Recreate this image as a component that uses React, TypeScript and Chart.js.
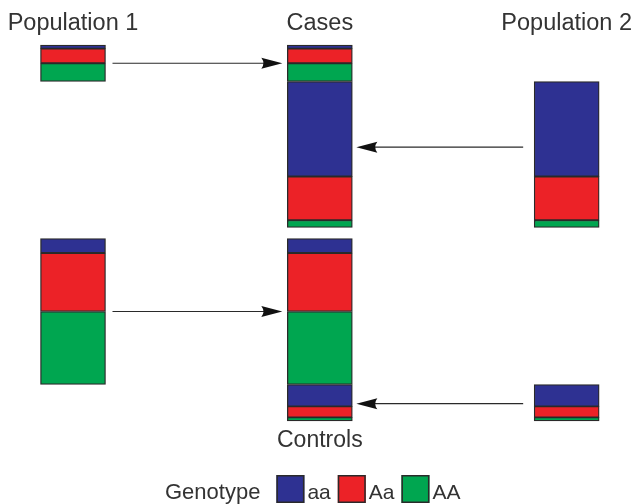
import React, { useEffect, useRef } from 'react';
import { Chart, registerables } from 'chart.js';

Chart.register(...registerables);

// ---- data ----
const columns = ['Population 1', 'Cases', 'Population 2'];
const bottomLabels = ['', 'Controls', ''];
const legendTitle = 'Genotype';
const genotypes = ['aa', 'Aa', 'AA'];
const genotypeColors = ['#2E3192', '#EC2227', '#00A650'];
// counts of each genotype (aa, Aa, AA)
const casesFromPop1 = [2, 8, 10];
const casesFromPop2 = [52, 24, 4];
const controlsFromPop1 = [8, 32, 40];
const controlsFromPop2 = [12, 6, 2];
const rowGap = 6;
// value level at which each arrow points into the middle column
const arrowLevels = [10, 56, 146, 196.5];
const arrowSources = [0, 2, 0, 2];

const FONT = "'Liberation Sans', Arial, Helvetica, sans-serif";
const TEXT = '#333333';
const BAR_W = 65;

const sum = (a: number[]) => a.reduce((s, v) => s + v, 0);

function buildDatasets() {
  const rows = [
    { start: 0, parts: [{ counts: casesFromPop1, cols: [0, 1] }, { counts: casesFromPop2, cols: [1, 2] }] },
    {
      start: sum(casesFromPop1) + sum(casesFromPop2) + rowGap,
      parts: [{ counts: controlsFromPop1, cols: [0, 1] }, { counts: controlsFromPop2, cols: [1, 2] }],
    },
  ];
  const datasets: any[] = [];
  rows.forEach((row) => {
    let pos = row.start;
    row.parts.forEach((part) => {
      part.counts.forEach((c, g) => {
        const range = [pos, pos + c];
        datasets.push({
          label: genotypes[g],
          xAxisID: 'x',
          yAxisID: 'y',
          data: columns.map((_, i) => (part.cols.includes(i) ? range : null)),
          backgroundColor: genotypeColors[g],
          borderColor: '#2a2a2a',
          borderWidth: 1.3,
          borderSkipped: false,
          barThickness: BAR_W,
          clip: false,
        });
        pos += c;
      });
    });
  });
  return datasets;
}

const arrowsPlugin = {
  id: 'arrows',
  afterDatasetsDraw(chart: any) {
    const ctx = chart.ctx;
    const xs = chart.scales.x;
    const ys = chart.scales.y;
    const half = BAR_W / 2;
    ctx.save();
    ctx.strokeStyle = '#2a2a2a';
    ctx.fillStyle = '#111';
    ctx.lineWidth = 1.2;
    arrowLevels.forEach((lvl, i) => {
      const from = arrowSources[i];
      const to = 1;
      const y = ys.getPixelForValue(lvl);
      let x0: number, x1: number;
      if (from < to) {
        x0 = xs.getPixelForValue(from) + half + 7;
        x1 = xs.getPixelForValue(to) - half - 5;
      } else {
        x0 = xs.getPixelForValue(from) - half - 11;
        x1 = xs.getPixelForValue(to) + half + 4;
      }
      const dir = x1 > x0 ? 1 : -1;
      const headLen = 21;
      const headHalf = 5.5;
      ctx.beginPath();
      ctx.moveTo(x0, y);
      ctx.lineTo(x1 - dir * headLen * 0.8, y);
      ctx.stroke();
      ctx.beginPath();
      ctx.moveTo(x1, y);
      ctx.lineTo(x1 - dir * headLen, y - headHalf);
      ctx.quadraticCurveTo(x1 - dir * headLen * 0.8, y, x1 - dir * headLen, y + headHalf);
      ctx.closePath();
      ctx.fill();
    });
    ctx.restore();
  },
  afterDraw(chart: any) {
    const ctx = chart.ctx;
    ctx.save();
    ctx.textBaseline = 'alphabetic';
    const baseline = 499;
    const boxTop = 475;
    const box = 28;
    let x = 165;
    ctx.fillStyle = TEXT;
    ctx.font = `22px ${FONT}`;
    ctx.fillText(legendTitle, x, baseline);
    x += ctx.measureText(legendTitle).width + 16;
    ctx.font = `21px ${FONT}`;
    genotypes.forEach((g, i) => {
      ctx.fillStyle = genotypeColors[i];
      ctx.fillRect(x, boxTop, box, box);
      ctx.strokeStyle = '#2a2a2a';
      ctx.lineWidth = 1.5;
      ctx.strokeRect(x + 0.75, boxTop + 0.75, box - 1.5, box - 1.5);
      x += box + 3;
      ctx.fillStyle = TEXT;
      ctx.fillText(g, x, baseline);
      x += ctx.measureText(g).width + 7;
    });
    ctx.restore();
  },
};

export default function App() {
  const ref = useRef<HTMLCanvasElement | null>(null);
  useEffect(() => {
    document.body.style.margin = '0';
    const canvas = ref.current!;
    const chart = new Chart(canvas, {
      type: 'bar',
      data: { labels: columns, datasets: buildDatasets() },
      options: {
        animation: false,
        responsive: false,
        devicePixelRatio: 1,
        layout: { padding: { left: 73, right: 68, top: 0, bottom: 43 } },
        plugins: { legend: { display: false }, tooltip: { enabled: false } },
        scales: {
          x: {
            type: 'category',
            position: 'top',
            offset: false,
            stacked: true,
            grid: { display: false, drawTicks: false },
            border: { display: false },
            ticks: { font: { size: 23.5, family: FONT }, color: TEXT, padding: 7, maxRotation: 0, autoSkip: false },
            afterFit: (s: any) => { s.height = 45; },
          },
          x2: {
            type: 'category',
            position: 'bottom',
            labels: bottomLabels,
            offset: false,
            grid: { display: false, drawTicks: false },
            border: { display: false },
            ticks: { font: { size: 23, family: FONT }, color: TEXT, padding: 6, maxRotation: 0, autoSkip: false },
            afterFit: (s: any) => { s.height = 40; },
          },
          y: {
            type: 'linear',
            display: false,
            stacked: false,
            reverse: true,
            min: 0,
            max: sum(casesFromPop1) + sum(casesFromPop2) + rowGap + sum(controlsFromPop1) + sum(controlsFromPop2),
          },
        },
      } as any,
      plugins: [arrowsPlugin],
    });
    return () => chart.destroy();
  }, []);
  return <canvas ref={ref} width={639} height={504} style={{ display: 'block' }} />;
}
